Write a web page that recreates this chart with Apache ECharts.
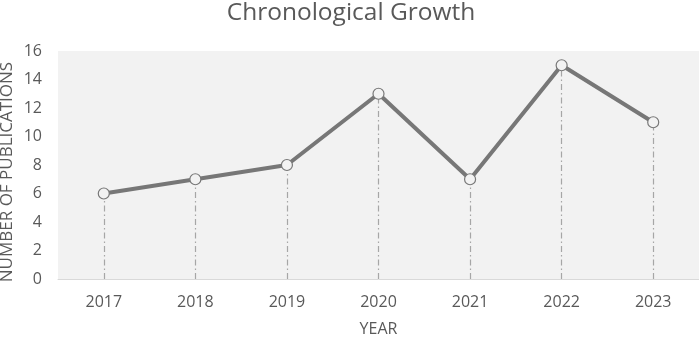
<!DOCTYPE html>
<html><head><meta charset="utf-8">
<script src="https://cdn.jsdelivr.net/npm/echarts@6/dist/echarts.min.js"></script>
<style>html,body{margin:0;padding:0;background:#fff}#c{width:699px;height:338px}</style>
</head><body><div id="c"></div>
<script>
const years = ['2017','2018','2019','2020','2021','2022','2023'];
const publications = [6, 7, 8, 13, 7, 15, 11];
const yTicks = {min: 0, max: 16, interval: 2};
const titleText = 'Chronological Growth';
const xName = 'YEAR';
const yName = 'NUMBER OF PUBLICATIONS';

const FONT = '"Open Sans", sans-serif';
const chart = echarts.init(document.getElementById('c'), null, {renderer: 'canvas'});
chart.setOption({
  animation: false,
  title: {text: titleText, left: 346, textAlign: 'center', top: -4,
    textStyle: {fontFamily: FONT, fontWeight: 'normal', fontSize: 24.5, color: '#595959'}},
  grid: {left: 58, right: 0, top: 51, bottom: 59, show: true, backgroundColor: '#f2f2f2', borderWidth: 0,
    containLabel: false, outerBoundsMode: 'none'},
  xAxis: {
    type: 'category', data: years, boundaryGap: true,
    name: xName, nameLocation: 'middle', nameGap: 42, nameMoveOverlap: false,
    nameTextStyle: {fontFamily: FONT, fontSize: 16, color: '#595959'},
    axisLine: {lineStyle: {color: '#d9d9d9', width: 1}},
    axisTick: {show: false},
    axisLabel: {fontFamily: FONT, fontSize: 16, color: '#595959', margin: 15},
    splitLine: {show: false}
  },
  yAxis: {
    type: 'value', min: yTicks.min, max: yTicks.max, interval: yTicks.interval,
    name: yName, nameLocation: 'middle', nameGap: 42, nameRotate: 90, nameMoveOverlap: false,
    nameTextStyle: {fontFamily: FONT, fontSize: 17, color: '#595959', padding: [0, 14, 0, 0]},
    axisLine: {show: false}, axisTick: {show: false},
    axisLabel: {fontFamily: FONT, fontSize: 16, color: '#595959', margin: 16},
    splitLine: {show: false}
  },
  series: [{
    type: 'line', data: publications,
    symbol: 'circle', symbolSize: 11,
    lineStyle: {color: '#777777', width: 4},
    itemStyle: {color: '#f2f2f2', borderColor: '#777777', borderWidth: 1.2},
    z: 3,
    markLine: {
      silent: true, symbol: ['none','none'], label: {show: false},
      lineStyle: {color: '#a6a6a6', width: 1.2, type: [6, 3, 1.5, 3]},
      data: publications.map((v, i) => [{coord: [i, 0]}, {coord: [i, v]}]),
      z: 1
    }
  }]
});
</script></body></html>
